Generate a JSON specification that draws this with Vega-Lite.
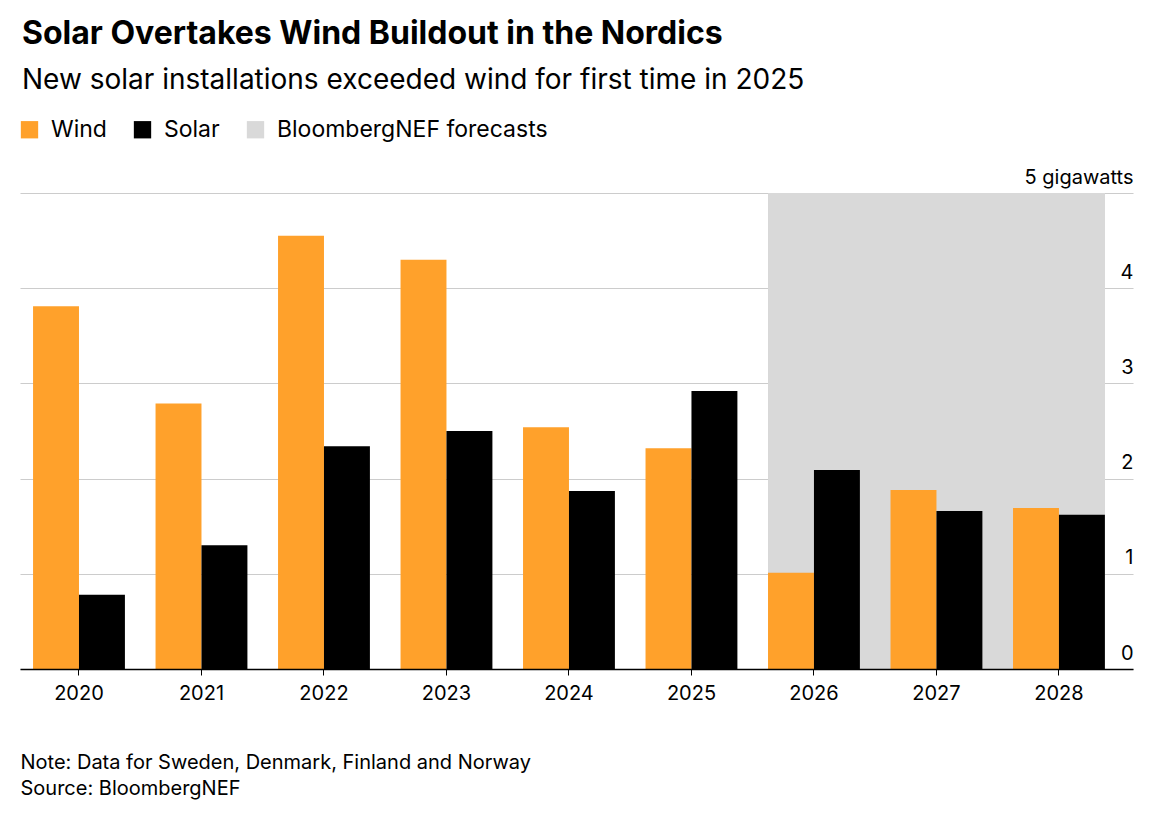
{
"$schema":"https://vega.github.io/schema/vega-lite/v6.json",
"autosize":"none",
"padding":{"left":20,"top":193,"right":19,"bottom":147},
"width":1113,"height":476,
"config":{"font":"Inter","view":{"stroke":null}},
"title":{"text":"Solar Overtakes Wind Buildout in the Nordics","subtitle":"New solar installations exceeded wind for first time in 2025","anchor":"start","frame":"group","offset":22,"fontSize":32,"fontWeight":"bold","subtitleFontSize":28,"subtitlePadding":16,"color":"#000","subtitleColor":"#000","dx":2},
"data":{"values":[
{"year":"2020","series":"Wind","v":3.81},{"year":"2020","series":"Solar","v":0.78},
{"year":"2021","series":"Wind","v":2.79},{"year":"2021","series":"Solar","v":1.30},
{"year":"2022","series":"Wind","v":4.55},{"year":"2022","series":"Solar","v":2.34},
{"year":"2023","series":"Wind","v":4.30},{"year":"2023","series":"Solar","v":2.50},
{"year":"2024","series":"Wind","v":2.54},{"year":"2024","series":"Solar","v":1.87},
{"year":"2025","series":"Wind","v":2.32},{"year":"2025","series":"Solar","v":2.92},
{"year":"2026","series":"Wind","v":1.01},{"year":"2026","series":"Solar","v":2.09},
{"year":"2027","series":"Wind","v":1.88},{"year":"2027","series":"Solar","v":1.66},
{"year":"2028","series":"Wind","v":1.69},{"year":"2028","series":"Solar","v":1.62}
]},
"layer":[
{"mark":{"type":"rect","color":"#d9d9d9"},
 "encoding":{"x":{"datum":"2026","bandPosition":0,"type":"nominal",
   "axis":{"bandPosition":0.5,"title":["Note: Data for Sweden, Denmark, Finland and Norway","Source: BloombergNEF"],"titleX":0,"titleY":83,"titleAnchor":"start","titleAlign":"left","titleBaseline":"top","titleFontSize":20,"titleFontWeight":"normal","titleLineHeight":26,"titleColor":"#000","labelAngle":0,"labelFontSize":20,"labelColor":"#000","labelPadding":8,"domainColor":"#000","domainWidth":1.5,"tickColor":"#000","tickSize":6}},
 "x2":{"datum":"2028","bandPosition":1},"y":{"datum":0,"type":"quantitative"},"y2":{"datum":5},
 "color":{"datum":"BloombergNEF forecasts","type":"nominal"}}},
{"mark":{"type":"bar"},
 "encoding":{
 "x":{"field":"year","type":"nominal","scale":{"paddingInner":0.25,"paddingOuter":0.168,"align":0.317},
   "axis":{"bandPosition":0.5,"title":["Note: Data for Sweden, Denmark, Finland and Norway","Source: BloombergNEF"],"titleX":0,"titleY":83,"titleAnchor":"start","titleAlign":"left","titleBaseline":"top","titleFontSize":20,"titleFontWeight":"normal","titleLineHeight":26,"titleColor":"#000","labelAngle":0,"labelFontSize":20,"labelColor":"#000","labelPadding":8,"domainColor":"#000","domainWidth":1.5,"tickColor":"#000","tickSize":6}},
 "xOffset":{"field":"series","sort":["Wind","Solar"]},
 "y":{"field":"v","type":"quantitative","scale":{"domain":[0,5],"nice":false},
   "axis":{"orient":"right","title":null,"domain":false,"ticks":false,"grid":true,"values":[0,1,2,3,4,5],"format":"d","labelOverlap":false,"labelAlign":"right","labelPadding":0,"labelBaseline":"bottom","labelOffset":-6,"labelFontSize":20,"labelColor":"#000","gridColor":"#cccccc","gridWidth":1.2,"labelExpr":"datum.value==5?'5 gigawatts':datum.label"}},
 "color":{"field":"series","type":"nominal","scale":{"domain":["Wind","Solar","BloombergNEF forecasts"],"range":["#ffa12b","#000000","#d9d9d9"]},
   "legend":{"title":null,"orient":"none","legendX":-2,"legendY":-75,"direction":"horizontal","symbolType":"square","symbolSize":300,"symbolOpacity":1,"symbolStrokeWidth":0,"labelFontSize":23,"labelLimit":400,"labelColor":"#000","columnPadding":24,"labelOffset":10}}
 }}
]
}
